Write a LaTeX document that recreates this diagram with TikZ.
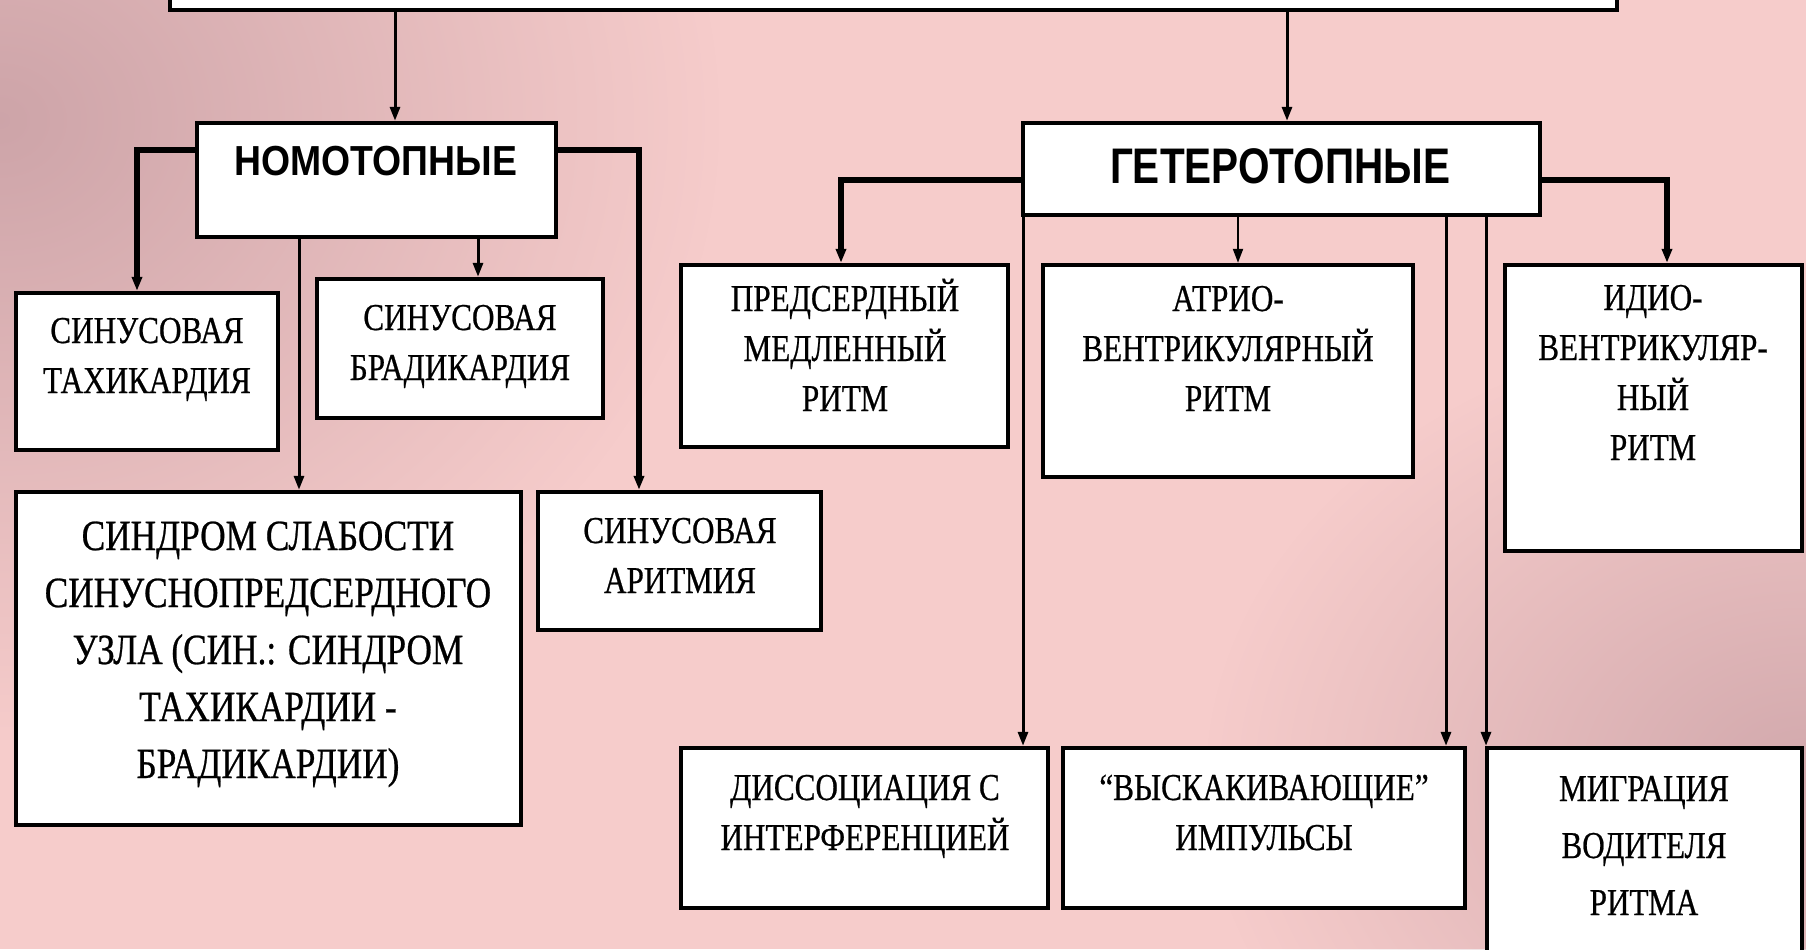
\documentclass[tikz,border=0pt]{standalone}
\usepackage{fontspec}
\usepackage{graphicx}
\usetikzlibrary{arrows.meta,fadings}
\newfontfamily\srf[FakeStretch=0.82,FakeBold=0.6]{Liberation Serif}
\newfontfamily\hsans{Liberation Sans}
\definecolor{bgmid}{HTML}{F6CCCB}
\definecolor{bgdark}{HTML}{C9A0A5}
\tikzfading[name=spotfade, inner color=transparent!0, outer color=transparent!100]
\newcommand\mkbox[5]{\node[bx, minimum width={(#4-#2)*0.5pt}, minimum height={(#5-#3)*0.5pt}] (#1) at ({(#2+#4)/2},{(#3+#5)/2}) {};}
\begin{document}
\begin{tikzpicture}[x=0.5pt,y=-0.5pt,
  bx/.style={draw=black, line width=2.2pt, fill=white, rectangle, inner sep=0pt},
  txt/.style={align=center, anchor=base, inner sep=0pt, font=\srf\fontsize{19}{25}\selectfont},
  txtb/.style={txt, font=\srf\fontsize{21.5}{28.5}\selectfont},
  txtm/.style={txt, font=\srf\fontsize{19}{28.5}\selectfont},
  hdr/.style={anchor=base, inner sep=0pt},
  conn/.style={line width=1.5pt, -{Triangle[length=7pt,width=5pt]}},
  thinconn/.style={conn, line width=1pt},
  branch/.style={conn, line width=2.6pt}]
\useasboundingbox (0,0) rectangle (1806,949);
\clip (0,0) rectangle (1806,949);
% background
\fill[bgmid] (0,0) rectangle (1806,949);
\fill[bgdark, path fading=spotfade, fill opacity=0.9] (0,120) ellipse [x radius=720, y radius=620];
\fill[bgdark, path fading=spotfade, fill opacity=0.8] (1806,780) ellipse [x radius=600, y radius=460];
% boxes
\mkbox{top}{170}{-90}{1617}{10}
\mkbox{nomo}{197}{123}{556}{237}
\mkbox{hetero}{1023}{123}{1540}{215}
\mkbox{tachy}{16}{293}{278}{450}
\mkbox{brady}{317}{279}{603}{418}
\mkbox{sss}{16}{492}{521}{825}
\mkbox{arrh}{538}{492}{821}{630}
\mkbox{atrial}{681}{265}{1008}{447}
\mkbox{av}{1043}{265}{1413}{477}
\mkbox{idio}{1505}{265}{1802}{551}
\mkbox{dissoc}{681}{748}{1048}{908}
\mkbox{jump}{1063}{748}{1465}{908}
\mkbox{migr}{1487}{748}{1802}{985}
% texts (anchor = baseline of last line)
\node[hdr] (tnomo) at (376,175) {\scalebox{0.89}[1]{\hsans\bfseries\fontsize{21}{21}\selectfont НОМОТОПНЫЕ}};
\node[hdr] (thet) at (1280,183) {\scalebox{0.81}[1]{\hsans\bfseries\fontsize{25}{25}\selectfont ГЕТЕРОТОПНЫЕ}};
\node[txt] (ttachy) at (147,393) {СИНУСОВАЯ\\ТАХИКАРДИЯ};
\node[txt] (tbrady) at (460,380) {СИНУСОВАЯ\\БРАДИКАРДИЯ};
\node[txtb] (tsss) at (268,778) {СИНДРОМ СЛАБОСТИ\\СИНУСНОПРЕДСЕРДНОГО\\УЗЛА (СИН.: СИНДРОМ\\ТАХИКАРДИИ -\\БРАДИКАРДИИ)};
\node[txt] (tarrh) at (680,593) {СИНУСОВАЯ\\АРИТМИЯ};
\node[txt] (tatrial) at (845,411) {ПРЕДСЕРДНЫЙ\\МЕДЛЕННЫЙ\\РИТМ};
\node[txt] (tav) at (1228,411) {АТРИО-\\ВЕНТРИКУЛЯРНЫЙ\\РИТМ};
\node[txt] (tidio) at (1653,460) {ИДИО-\\ВЕНТРИКУЛЯР-\\НЫЙ\\РИТМ};
\node[txt] (tdissoc) at (865,850) {ДИССОЦИАЦИЯ С\\ИНТЕРФЕРЕНЦИЕЙ};
\node[txt] (tjump) at (1264,850) {“ВЫСКАКИВАЮЩИЕ”\\ИМПУЛЬСЫ};
\node[txtm] (tmigr) at (1644,915) {МИГРАЦИЯ\\ВОДИТЕЛЯ\\РИТМА};
% helper coordinates
\coordinate (xTN) at (395,0);
\coordinate (xTH) at (1287,0);
\coordinate (yN) at (0,150);
\coordinate (yH) at (0,180);
\coordinate (xTa) at (137,0);
\coordinate (xAr) at (639,0);
\coordinate (xSs) at (299,0);
\coordinate (xBr) at (478,0);
\coordinate (xAt) at (841,0);
\coordinate (xId) at (1667,0);
\coordinate (xDi) at (1023,0);
\coordinate (xAv) at (1238,0);
\coordinate (xJu) at (1446,0);
\coordinate (xMi) at (1486,0);
% connectors
\draw[conn] (xTN |- top.south) -- (xTN |- nomo.north);
\draw[conn] (xTH |- top.south) -- (xTH |- hetero.north);
\draw[branch] (nomo.west |- yN) -| (xTa |- tachy.north);
\draw[branch] (nomo.east |- yN) -| (xAr |- arrh.north);
\draw[conn] (xSs |- nomo.south) -- (xSs |- sss.north);
\draw[conn] (xBr |- nomo.south) -- (xBr |- brady.north);
\draw[branch] (hetero.west |- yH) -| (xAt |- atrial.north);
\draw[branch] (hetero.east |- yH) -| (xId |- idio.north);
\draw[conn] (xDi |- hetero.south) -- (xDi |- dissoc.north);
\draw[thinconn] (xAv |- hetero.south) -- (xAv |- av.north);
\draw[conn] (xJu |- hetero.south) -- (xJu |- jump.north);
\draw[conn] (xMi |- hetero.south) -- (xMi |- migr.north);
\end{tikzpicture}
\end{document}
